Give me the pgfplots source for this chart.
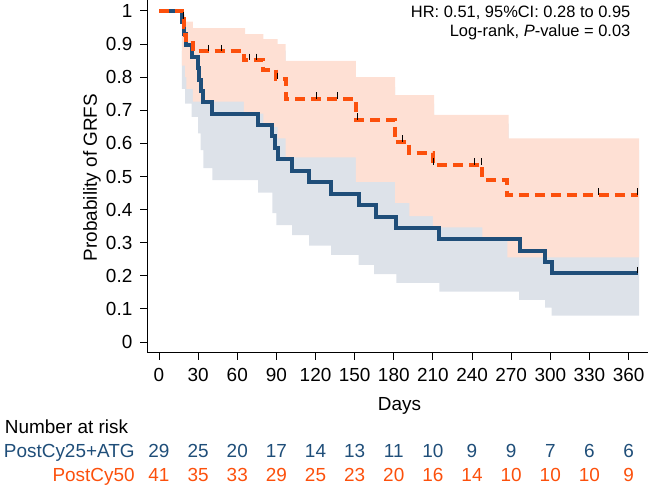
\documentclass[border=0pt]{standalone}
\usepackage{fontspec}
\setmainfont{Liberation Sans}
\usepackage{pgfplots}
\pgfplotsset{compat=1.18}
\usepgfplotslibrary{fillbetween}
\definecolor{kmblue}{RGB}{31,78,121}
\definecolor{kmorange}{RGB}{252,80,12}
\definecolor{bandblue}{RGB}{221,226,233}
\definecolor{bandorange}{RGB}{254,224,212}
\newcommand\fa{\fontsize{19}{22}\selectfont}
\newcommand\fb{\fontsize{16.5}{19}\selectfont}
\begin{document}
\begin{tikzpicture}[x=1bp,y=1bp]
\begin{axis}[
  at={(0,0)}, anchor=south west, name=ax,
  scale only axis, width=500.7bp, height=353bp,
  xmin=-8.97, xmax=374.9, ymin=-0.0332, ymax=1.0332,
  axis x line*=bottom, axis y line*=left,
  axis line style={-, line width=1bp, black},
  tick align=outside, major tick length=7bp,
  every tick/.style={black, line width=1bp},
  xtick={0,30,60,90,120,150,180,210,240,270,300,330,360},
  xticklabels={0,30,60,90,120,150,180,210,240,270,300,330,360},
  ytick={0,0.1,0.2,0.3,0.4,0.5,0.6,0.7,0.8,0.9,1},
  yticklabels={0,0.1,0.2,0.3,0.4,0.5,0.6,0.7,0.8,0.9,1},
  /pgf/number format/assume math mode=true,
  ticklabel style={font=\fa},
  yticklabel style={anchor=east, inner sep=0pt, xshift=-7.8bp},
  xticklabel style={anchor=north, inner sep=0pt, yshift=-8.3bp},
  clip=false,
]
% blue confidence band (PostCy25+ATG)
\addplot[name path=bu, draw=none, const plot, forget plot] coordinates {
(17.5,0.88) (97,0.82) (151,0.77) (181,0.72) (211,0.66) (268,0.58) (368,0.58)};
\addplot[name path=bl, draw=none, const plot, forget plot] coordinates {
(17.5,0.765) (20,0.72) (25,0.68) (30,0.63) (32,0.58) (34,0.525) (41,0.489)
(76,0.451) (87,0.389) (90,0.353) (102,0.323) (115,0.291) (132,0.263)
(153,0.233) (165,0.205) (182,0.179) (215,0.152) (276,0.127) (296,0.104)
(301,0.08) (368,0.08)};
\addplot[fill=bandblue, draw=none, forget plot] fill between[of=bu and bl];
% orange confidence band (PostCy50)
\addplot[name path=ou, draw=none, const plot, forget plot] coordinates {
(17.5,0.99) (20,0.968) (26,0.948) (66,0.93) (80,0.915) (91,0.90) (97,0.849)
(151,0.80) (181,0.746) (211,0.686) (268,0.615) (368,0.615)};
\addplot[name path=ol, draw=none, const plot, forget plot] coordinates {
(17.5,0.835) (20,0.80) (21,0.765) (26,0.726) (65,0.69) (80,0.65) (91,0.615)
(97,0.558) (151,0.484) (181,0.42) (192,0.38) (210,0.346) (248,0.31)
(267,0.256) (368,0.256)};
\addplot[fill=bandorange, draw=none, forget plot] fill between[of=ou and ol];
% KM curves
\addplot[kmblue, line width=4bp, const plot, mark=none] coordinates {
(0,1.000) (18,0.966) (19,0.931) (21,0.897) (25,0.862) (30,0.828) (31,0.793)
(32,0.759) (34,0.724) (41,0.690) (76,0.655) (87,0.621) (89,0.586) (91,0.552)
(102,0.517) (115,0.483) (132,0.448) (153,0.414) (166,0.379) (182,0.345)
(215,0.310) (277,0.276) (296,0.241) (301,0.207) (367,0.207)};
\addplot[kmorange, line width=4bp, const plot, mark=none, dash pattern=on 10bp off 6bp] coordinates {
(0,1.000) (18,0.976) (19,0.951) (20,0.927) (21,0.902) (26,0.878) (65,0.851)
(80,0.823) (90,0.794) (97,0.735) (151,0.671) (181,0.604) (192,0.570)
(210,0.535) (248,0.490) (267,0.444) (367,0.444)};
% censor marks
\addplot[only marks, mark=|, mark size=3.3bp, black, line width=0.9bp, mark options={yshift=3.3bp}] coordinates {
(18.5,0.976) (38,0.878) (48,0.878) (69,0.851) (74.5,0.851) (90.5,0.794)
(121,0.735) (137,0.735) (152,0.671) (187,0.604) (210.5,0.535) (242,0.535)
(247,0.535) (337,0.444) (367,0.444)};
\addplot[only marks, mark=|, mark size=3.3bp, black, line width=0.9bp, mark options={yshift=3.3bp}] coordinates {
(367,0.207)};
\end{axis}
% axis labels
\node[font=\fa, rotate=90, anchor=center, inner sep=0pt] at (-55.3,175.5) {Probability of GRFS};
\node[font=\fa, anchor=base, inner sep=0pt] at (252.2,-58) {Days};
% annotation
\node[font=\fb, anchor=base east, inner sep=0pt] at (483.2,335.2) {HR: 0.51, 95\%CI: 0.28 to 0.95};
\node[font=\fb, anchor=base east, inner sep=0pt] at (483.2,316.5) {Log-rank, \textit{P}-value = 0.03};
% number at risk
\node[font=\fa, anchor=base west, inner sep=0pt] at (-142.5,-80.5) {Number at risk};
\node[font=\fa, anchor=base east, inner sep=0pt, text=kmblue] at (-12.5,-104.5) {PostCy25+ATG};
\node[font=\fa, anchor=base east, inner sep=0pt, text=kmorange] at (-12.5,-128.5) {PostCy50};
\foreach \d/\n in {0/29,30/25,60/20,90/17,120/14,150/13,180/11,210/10,240/9,270/9,300/7,330/6,360/6} {
  \node[font=\fa, anchor=base, inner sep=0pt, text=kmblue] at ({11.7+1.3042*\d},-104.5) {\n};
}
\foreach \d/\n in {0/41,30/35,60/33,90/29,120/25,150/23,180/20,210/16,240/14,270/10,300/10,330/10,360/9} {
  \node[font=\fa, anchor=base, inner sep=0pt, text=kmorange] at ({11.7+1.3042*\d},-128.5) {\n};
}
\pgfresetboundingbox
\path[use as bounding box] (-147.3,-133) rectangle (500.7,353);
\end{tikzpicture}
\end{document}
